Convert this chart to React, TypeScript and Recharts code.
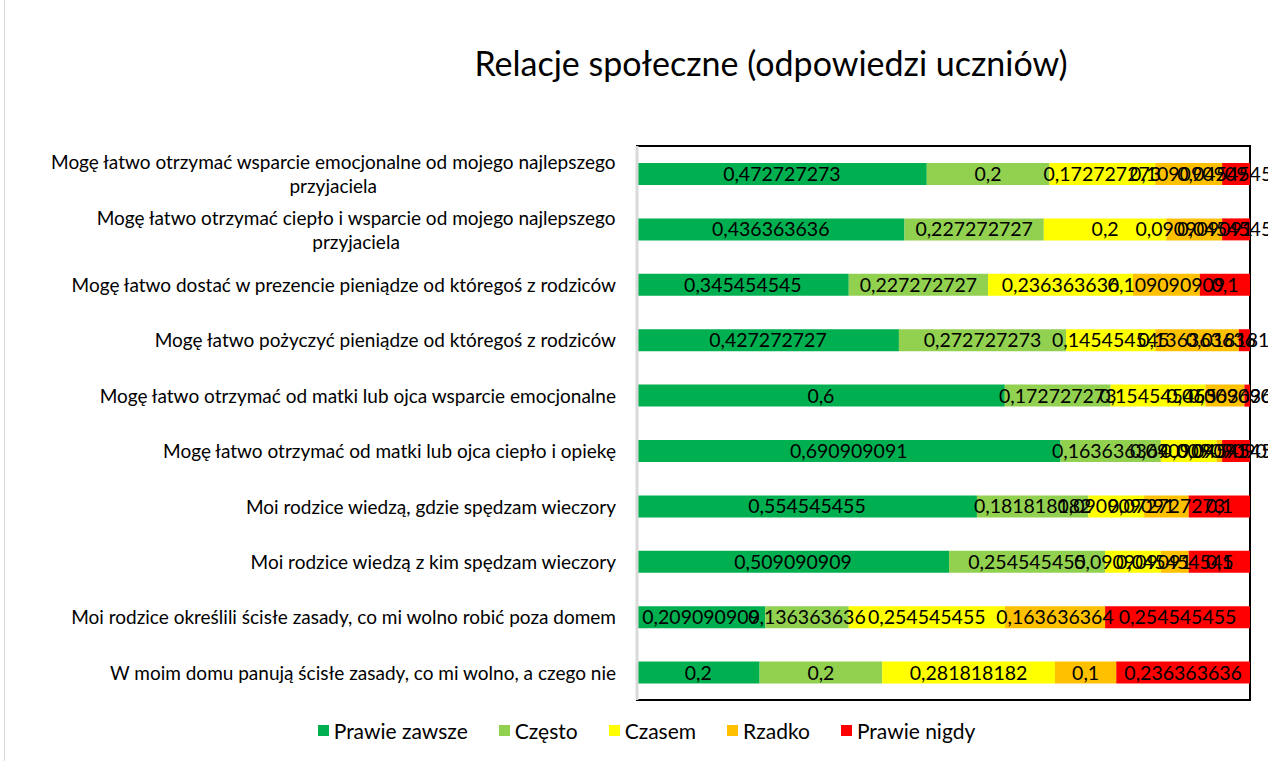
import React from 'react';
import { BarChart, Bar, XAxis, YAxis, CartesianGrid, Legend, LabelList, ReferenceLine, ReferenceArea } from 'recharts';

const categories = [
  'Mogę łatwo otrzymać wsparcie emocjonalne od mojego najlepszego przyjaciela',
  'Mogę łatwo otrzymać ciepło i wsparcie od mojego najlepszego przyjaciela',
  'Mogę łatwo dostać w prezencie pieniądze od któregoś z rodziców',
  'Mogę łatwo pożyczyć pieniądze od któregoś z rodziców',
  'Mogę łatwo otrzymać od matki lub ojca wsparcie emocjonalne',
  'Mogę łatwo otrzymać od matki lub ojca ciepło i opiekę',
  'Moi rodzice wiedzą, gdzie spędzam wieczory',
  'Moi rodzice wiedzą z kim spędzam wieczory',
  'Moi rodzice określili ścisłe zasady, co mi wolno robić poza domem',
  'W moim domu panują ścisłe zasady, co mi wolno, a czego nie',
];

const prawieZawsze = [0.472727273, 0.436363636, 0.345454545, 0.427272727, 0.6, 0.690909091, 0.554545455, 0.509090909, 0.209090909, 0.2];
const czesto = [0.2, 0.227272727, 0.227272727, 0.272727273, 0.172727273, 0.163636364, 0.181818182, 0.254545455, 0.136363636, 0.2];
const czasem = [0.172727273, 0.2, 0.236363636, 0.145454545, 0.154545455, 0.090909091, 0.090909091, 0.090909091, 0.254545455, 0.281818182];
const rzadko = [0.109090909, 0.090909091, 0.109090909, 0.136363636, 0.063636364, 0.009090909, 0.072727273, 0.045454545, 0.163636364, 0.1];
const prawieNigdy = [0.045454545, 0.045454545, 0.1, 0.018181818, 0.009090909, 0.045454545, 0.1, 0.1, 0.254545455, 0.236363636];

const seriesKeys = ['pz', 'cz', 'cs', 'rz', 'pn'];
const seriesNames = ['Prawie zawsze', 'Często', 'Czasem', 'Rzadko', 'Prawie nigdy'];
const seriesColors = ['#00B050', '#92D050', '#FFFF00', '#FFC000', '#FF0000'];
const xTicks = [0, 0.1, 0.2, 0.3, 0.4, 0.5, 0.6, 0.7, 0.8, 0.9, 1];

const title = 'Relacje społeczne (odpowiedzi uczniów)';

const FONT = 'Lato, "Open Sans", sans-serif';

const data = categories.map((c, i) => ({
  name: c,
  pz: prawieZawsze[i],
  cz: czesto[i],
  cs: czasem[i],
  rz: rzadko[i],
  pn: prawieNigdy[i],
}));

let ctx: CanvasRenderingContext2D | null = null;
function measure(text: string, size: number): number {
  if (!ctx) {
    const c = document.createElement('canvas');
    ctx = c.getContext('2d');
  }
  if (!ctx) return text.length * size * 0.5;
  ctx.font = `${size}px Lato`;
  return ctx.measureText(text).width;
}

function wrap(text: string, maxW: number, size: number): string[] {
  const words = text.split(' ');
  const lines: string[] = [];
  let cur = '';
  for (const w of words) {
    const t = cur ? cur + ' ' + w : w;
    if (measure(t, size) > maxW && cur) {
      lines.push(cur);
      cur = w;
    } else {
      cur = t;
    }
  }
  if (cur) lines.push(cur);
  return lines;
}

const TICK_SIZE = 19;

const CategoryTick = (props: any) => {
  const { x, y, payload } = props;
  const lines = wrap(String(payload.value), 600, TICK_SIZE);
  if (lines.length === 1) {
    return (
      <text x={x} y={y} textAnchor="end" dominantBaseline="central" fontSize={TICK_SIZE} fontFamily={FONT} fill="#000">
        {lines[0]}
      </text>
    );
  }
  const w0 = measure(lines[0], TICK_SIZE);
  const cx = x - w0 / 2;
  const lh = 24;
  const start = y - ((lines.length - 1) * lh) / 2;
  return (
    <text textAnchor="middle" fontSize={TICK_SIZE} fontFamily={FONT} fill="#000">
      {lines.map((l, i) => (
        <tspan key={i} x={cx} y={start + i * lh} dominantBaseline="central">
          {l}
        </tspan>
      ))}
    </text>
  );
};

const fmt = (v: any) => String(v).replace('.', ',');

const LegendContent = () => (
  <div
    style={{
      display: 'flex',
      justifyContent: 'center',
      alignItems: 'center',
      height: 28,
      fontFamily: FONT,
      fontSize: 21,
      color: '#000',
      paddingLeft: 56,
    }}
  >
    {seriesNames.map((n, i) => (
      <div key={n} style={{ display: 'flex', alignItems: 'center', marginRight: 31 }}>
        <div style={{ width: 11, height: 11, background: seriesColors[i], marginRight: 5 }} />
        <span>{n}</span>
      </div>
    ))}
  </div>
);

export default function App() {
  return (
    <div style={{ position: 'absolute', left: 0, top: 0, width: 1268, height: 761, background: '#fff', overflow: 'hidden' }}>
      <div style={{ position: 'absolute', left: 4, top: 0, height: 761, borderLeft: '1px solid #d9d9d9' }} />
      <div
        style={{
          position: 'absolute',
          left: 0,
          top: 43,
          width: 1542,
          textAlign: 'center',
          fontFamily: FONT,
          fontSize: 34,
          lineHeight: '40px',
          color: '#000',
        }}
      >
        {title}
      </div>
      <BarChart
        width={1268}
        height={761}
        data={data}
        layout="vertical"
        margin={{ top: 146, right: 18, left: 0, bottom: 33 }}
        barSize={22}
        barCategoryGap={0}
      >
        <CartesianGrid horizontal={false} vertical={true} stroke="#d9d9d9" strokeWidth={1.5} />
        <XAxis
          type="number"
          domain={[0, 1]}
          ticks={xTicks}
          allowDataOverflow
          tick={false}
          axisLine={false}
          tickLine={false}
          height={0}
        />
        <YAxis
          type="category"
          dataKey="name"
          width={637}
          axisLine={false}
          tickLine={false}
          tickSize={0}
          tickMargin={21}
          tick={<CategoryTick />}
          interval={0}
        />
        <ReferenceArea x1={0} x2={1} fill="none" fillOpacity={0} stroke="#000" strokeWidth={2} ifOverflow="visible" />
        <ReferenceLine x={0} stroke="#d9d9d9" strokeWidth={3} />
        {seriesKeys.map((k, i) => (
          <Bar key={k} dataKey={k} name={seriesNames[i]} stackId="a" fill={seriesColors[i]} isAnimationActive={false}>
            <LabelList dataKey={k} position="center" formatter={fmt} fill="#000" fontSize={19.5} fontFamily={FONT} />
          </Bar>
        ))}
        <Legend verticalAlign="bottom" content={<LegendContent />} wrapperStyle={{ top: 716, left: 0, width: 1268 }} />
      </BarChart>
    </div>
  );
}
